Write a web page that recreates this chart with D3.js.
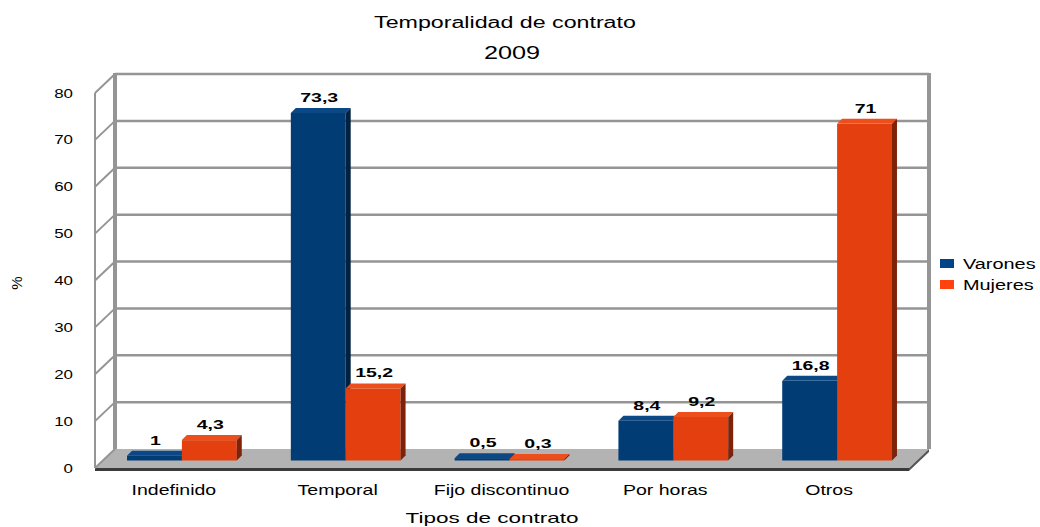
<!DOCTYPE html>
<html>
<head>
<meta charset="utf-8">
<script src="https://cdn.jsdelivr.net/npm/d3@7"></script>
<style>
  body { margin: 0; background: #fff; }
  text { font-family: "Liberation Sans", Arial, sans-serif; fill: #000; }
</style>
</head>
<body>
<script>
// Datos del gráfico
var categorias = ["Indefinido", "Temporal", "Fijo discontinuo", "Por horas", "Otros"];
var series = ["Varones", "Mujeres"];
var varones = [1, 73.3, 0.5, 8.4, 16.8];
var mujeres = [4.3, 15.2, 0.3, 9.2, 71];
var marcas = [0, 10, 20, 30, 40, 50, 60, 70, 80];
var titulo = "Temporalidad de contrato";
var subtitulo = "2009";
var tituloX = "Tipos de contrato";
var tituloY = "%";

var ancho = 1040, alto = 527;

// Colores de cada serie: cara frontal, superior y lateral
var colores = {
    Varones: { frente: "#013c75", arriba: "#0a4886", lado: "#00213f", leyenda: "#004586" },
    Mujeres: { frente: "#e33f0f", arriba: "#ec4f1c", lado: "#7e220a", leyenda: "#ff420e" }
};

var svg = d3.select("body").append("svg")
            .attr("width", ancho)
            .attr("height", alto);

// Estira el texto horizontalmente como en la imagen original
function estirar(sel, k) {
    sel.each(function() {
        var w = this.getComputedTextLength();
        d3.select(this).attr("textLength", w * k).attr("lengthAdjust", "spacingAndGlyphs");
    });
}

// Escalas: pared del fondo y barras
var yFondo = d3.scaleLinear().domain([0, 80]).range([449, 74]);
var yBarra = d3.scaleLinear().domain([0, 80]).range([460.5, 81.2]);
var prof = { dx: -20, dy: 19 };     // del fondo hacia el frente
var caja = { dx: 5, dy: -5 };       // profundidad de cada barra
var paredIzq = 115, paredDer = 929;

var x = d3.scaleBand()
          .domain(categorias)
          .range([100, 919])
          .paddingInner(0.33)
          .paddingOuter(0.165);
var xSerie = d3.scaleBand()
               .domain(series)
               .range([0, x.bandwidth()]);

// Suelo
var suelo = svg.append("g");
suelo.append("path")
     .attr("d", "M" + paredIzq + "," + yFondo(0) +
                " L" + paredDer + "," + yFondo(0) +
                " L" + (paredDer + prof.dx) + "," + (yFondo(0) + prof.dy) +
                " L" + (paredIzq + prof.dx) + "," + (yFondo(0) + prof.dy) + " Z")
     .attr("fill", "#b3b3b3");
suelo.append("path")
     .attr("d", "M" + (paredIzq + prof.dx) + "," + (yFondo(0) + prof.dy) +
                " L" + (paredDer + prof.dx) + "," + (yFondo(0) + prof.dy) +
                " L" + (paredDer + prof.dx) + "," + (yFondo(0) + prof.dy + 3) +
                " L" + (paredIzq + prof.dx) + "," + (yFondo(0) + prof.dy + 3) + " Z")
     .attr("fill", "#3a3a3a");
suelo.append("path")
     .attr("d", "M" + paredDer + "," + yFondo(0) +
                " L" + (paredDer + prof.dx) + "," + (yFondo(0) + prof.dy) +
                " L" + (paredDer + prof.dx) + "," + (yFondo(0) + prof.dy + 3) +
                " L" + paredDer + "," + (yFondo(0) + 3) + " Z")
     .attr("fill", "#555");

// Líneas de la cuadrícula en la pared del fondo
var rejilla = svg.append("g").attr("stroke", "#959595").attr("fill", "none");
rejilla.selectAll("line.h")
       .data(marcas.filter(function(d) { return d > 0; }))
       .enter().append("line")
       .attr("class", "h")
       .attr("x1", paredIzq).attr("x2", paredDer)
       .attr("y1", function(d) { return yFondo(d); })
       .attr("y2", function(d) { return yFondo(d); })
       .attr("stroke-width", 2.5);

// Pared izquierda: diagonales
rejilla.selectAll("line.d")
       .data(marcas)
       .enter().append("line")
       .attr("class", "d")
       .attr("x1", paredIzq + prof.dx).attr("x2", paredIzq)
       .attr("y1", function(d) { return yFondo(d) + prof.dy; })
       .attr("y2", function(d) { return yFondo(d); })
       .attr("stroke-width", 2);

// Bordes verticales
rejilla.append("line")
       .attr("x1", paredIzq + prof.dx).attr("x2", paredIzq + prof.dx)
       .attr("y1", yFondo(80) + prof.dy).attr("y2", yFondo(0) + prof.dy)
       .attr("stroke-width", 2);
rejilla.append("line")
       .attr("x1", paredIzq).attr("x2", paredIzq)
       .attr("y1", yFondo(80) - 1).attr("y2", yFondo(0))
       .attr("stroke-width", 4);
rejilla.append("line")
       .attr("x1", paredDer).attr("x2", paredDer)
       .attr("y1", yFondo(80) - 1).attr("y2", yFondo(0))
       .attr("stroke-width", 4);

// Barras en 3D
var datos = [];
categorias.forEach(function(c, i) {
    datos.push({ cat: c, serie: "Varones", valor: varones[i] });
    datos.push({ cat: c, serie: "Mujeres", valor: mujeres[i] });
});

var barras = svg.append("g");
datos.forEach(function(d) {
    var x0 = x(d.cat) + xSerie(d.serie);
    var x1 = x0 + xSerie.bandwidth();
    var yt = yBarra(d.valor);
    var yb = yBarra(0);
    var col = colores[d.serie];
    var g = barras.append("g");
    g.append("rect")
     .attr("x", x0).attr("y", yt)
     .attr("width", x1 - x0).attr("height", yb - yt)
     .attr("fill", col.frente);
    g.append("path")
     .attr("d", "M" + x0 + "," + yt + " L" + (x0 + caja.dx) + "," + (yt + caja.dy) +
                " L" + (x1 + caja.dx) + "," + (yt + caja.dy) + " L" + x1 + "," + yt + " Z")
     .attr("fill", col.arriba);
    g.append("path")
     .attr("d", "M" + x1 + "," + yt + " L" + (x1 + caja.dx) + "," + (yt + caja.dy) +
                " L" + (x1 + caja.dx) + "," + (yb + caja.dy) + " L" + x1 + "," + yb + " Z")
     .attr("fill", col.lado);
});

// Etiquetas de valores
var valores = svg.append("g").selectAll("text")
    .data(datos)
    .enter().append("text")
    .attr("x", function(d) { return x(d.cat) + xSerie(d.serie) + xSerie.bandwidth() / 2 + 1; })
    .attr("y", function(d) { return yBarra(d.valor) - 11; })
    .attr("text-anchor", "middle")
    .attr("font-size", "13px")
    .attr("font-weight", "bold")
    .text(function(d) { return String(d.valor).replace(".", ","); });
estirar(valores, 1.5);

// Etiquetas del eje Y
var ejeY = svg.append("g").selectAll("text")
    .data(marcas)
    .enter().append("text")
    .attr("x", 73)
    .attr("y", function(d) { return yFondo(d) + 19; })
    .attr("dy", "0.35em")
    .attr("text-anchor", "end")
    .attr("font-size", "13px")
    .text(function(d) { return d; });
estirar(ejeY, 1.3);

// Etiquetas del eje X
var ejeX = svg.append("g").selectAll("text")
    .data(categorias)
    .enter().append("text")
    .attr("x", function(d) { return x(d) + x.bandwidth() / 2 - 8; })
    .attr("y", 495)
    .attr("text-anchor", "middle")
    .attr("font-size", "15px")
    .text(function(d) { return d; });
estirar(ejeX, 1.3);

// Títulos
var t1 = svg.append("text")
    .attr("x", 505).attr("y", 28)
    .attr("text-anchor", "middle")
    .attr("font-size", "16px")
    .text(titulo);
estirar(t1, 1.45);

var t2 = svg.append("text")
    .attr("x", 512).attr("y", 59)
    .attr("text-anchor", "middle")
    .attr("font-size", "18px")
    .text(subtitulo);
estirar(t2, 1.4);

var t3 = svg.append("text")
    .attr("x", 492).attr("y", 523)
    .attr("text-anchor", "middle")
    .attr("font-size", "15px")
    .text(tituloX);
estirar(t3, 1.5);

svg.append("text")
   .attr("transform", "translate(22,283) rotate(-90)")
   .attr("text-anchor", "middle")
   .attr("font-size", "15px")
   .text(tituloY);

// Leyenda
var leyenda = svg.append("g").selectAll("g")
    .data(series)
    .enter().append("g")
    .attr("transform", function(d, i) { return "translate(940," + (259 + i * 21) + ")"; });
leyenda.append("rect")
       .attr("width", 14).attr("height", 9)
       .attr("fill", function(d) { return colores[d].leyenda; });
var textosLeyenda = leyenda.append("text")
       .attr("x", 23).attr("y", 10)
       .attr("font-size", "14px")
       .text(function(d) { return d; });
estirar(textosLeyenda, 1.42);
</script>
</body>
</html>
